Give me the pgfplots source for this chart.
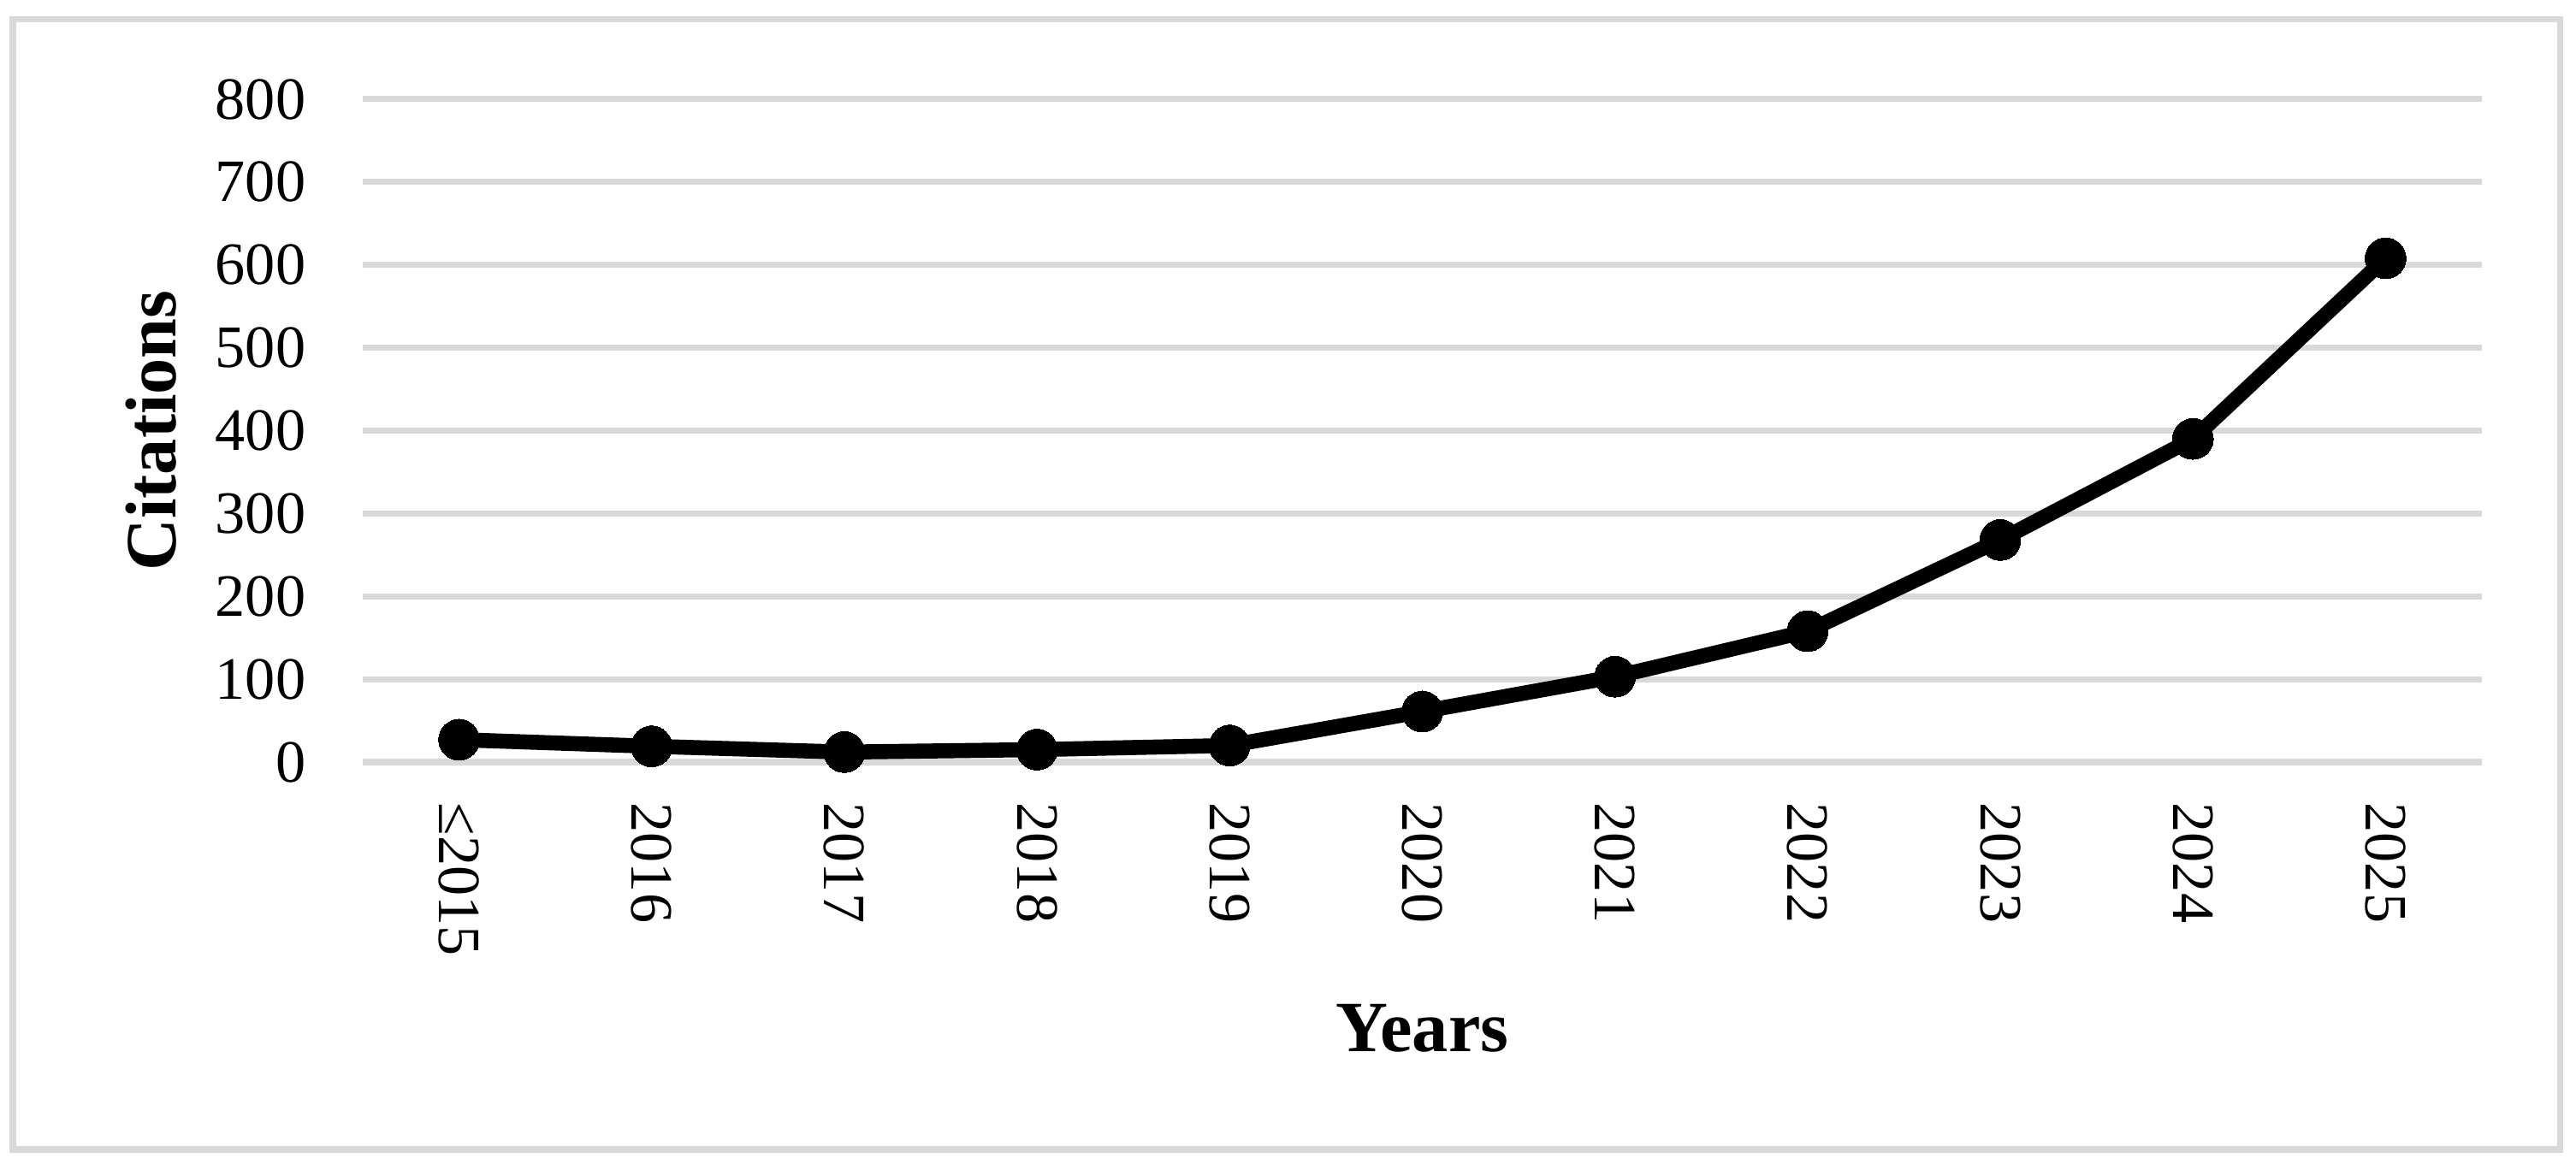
\documentclass[border=0pt]{standalone}
\usepackage{fontspec}
\setmainfont{Liberation Serif}
\usepackage{pgfplots}
\pgfplotsset{compat=1.18}
\definecolor{gridgray}{HTML}{D9D9D9}
\begin{document}
\begin{tikzpicture}
\useasboundingbox (-4.24,-4.84) rectangle (25.87,8.91);
\draw[gridgray, line width=2pt] (-4.09,-4.53) rectangle (25.68,8.68);
\begin{axis}[
  at={(0,0)}, anchor=south west,
  scale only axis,
  width=24.77cm, height=7.75cm,
  xmin=-0.5, xmax=10.5,
  ymin=0, ymax=800,
  ytick={0,100,...,800},
  xtick={0,...,10},
  xticklabels={≤2015,2016,2017,2018,2019,2020,2021,2022,2023,2024,2025},
  axis line style={draw=none},
  major tick length=0pt,
  tick style={draw=none},
  ymajorgrids,
  grid style={gridgray, line width=2pt},
  /pgf/number format/assume math mode=true,
  yticklabel style={font=\fontsize{20}{24}\selectfont, inner sep=0pt, anchor=east, xshift=-0.66cm},
  xticklabel style={font=\fontsize{20}{24}\selectfont, inner sep=0pt, rotate=-90, anchor=west, xshift=0.47cm},
  xlabel={Years},
  ylabel={Citations},
  xlabel style={font=\fontsize{24}{28}\selectfont\bfseries, at={(axis description cs:0.5,-0.4013)}, anchor=center},
  ylabel style={font=\fontsize{24}{28}\selectfont\bfseries, at={(axis description cs:-0.0999,0.5)}, anchor=center},
  clip=false,
]
\addplot[black, line width=5pt, mark=*, mark size=6.8pt, mark options={fill=black, line width=0pt}] coordinates {
(0,27) (1,19) (2,12) (3,15) (4,20) (5,61) (6,103) (7,158) (8,268) (9,390) (10,608)
};
\end{axis}
\end{tikzpicture}
\end{document}
